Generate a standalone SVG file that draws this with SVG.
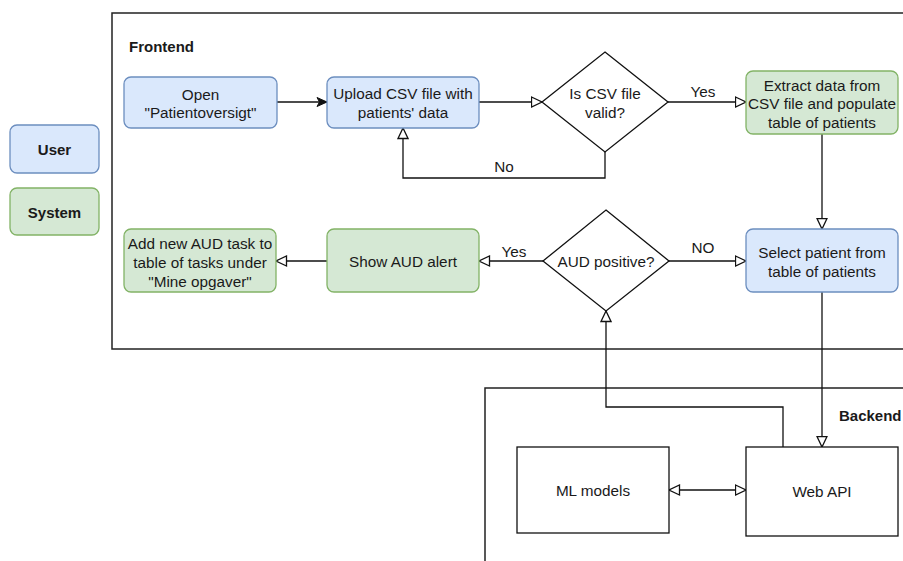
<svg xmlns="http://www.w3.org/2000/svg" width="903" height="561" viewBox="0 0 903 561">
  <defs>
    <style>
      text { font-family: "Liberation Sans", Arial, sans-serif; font-size: 15.3px; fill: #1a1a1a; text-anchor: middle; dominant-baseline: central; }
      .bold { font-weight: bold; font-size: 15px; }
      .left { text-anchor: start; }
      .frame { fill: none; stroke: #222; stroke-width: 1.5; }
      .user { fill: #dae8fc; stroke: #6c8ebf; stroke-width: 1.3; }
      .sys { fill: #d5e8d4; stroke: #82b366; stroke-width: 1.3; }
      .plain { fill: #fff; stroke: #111; stroke-width: 1.3; }
      .edge { fill: none; stroke: #111; stroke-width: 1.3; }
      .open { marker-end: url(#openTri); }
    </style>
    <marker id="openTri" viewBox="0 0 12 12" refX="11.5" refY="6" markerWidth="12" markerHeight="12" markerUnits="userSpaceOnUse" orient="auto-start-reverse">
      <path d="M1,1 L11.5,6 L1,11 Z" fill="#fff" stroke="#111" stroke-width="1.3"/>
    </marker>
    <marker id="solidTri" viewBox="0 0 12 12" refX="11" refY="6" markerWidth="12" markerHeight="12" markerUnits="userSpaceOnUse" orient="auto">
      <path d="M1,1.5 L11,6 L1,10.5 L3.5,6 Z" fill="#111" stroke="#111" stroke-width="1"/>
    </marker>
  </defs>

  <!-- containers -->
  <g id="frontend">
    <rect class="frame" x="112" y="13" width="810" height="336"/>
    <text class="bold left" x="129" y="46">Frontend</text>
  </g>
  <g id="backend">
    <rect class="frame" x="485" y="388" width="440" height="200"/>
    <text class="bold left" x="839" y="415">Backend</text>
  </g>

  <!-- legend -->
  <g id="legend-user">
    <rect class="user" x="10" y="125" width="89" height="48" rx="7"/>
    <text class="bold" x="54.5" y="149">User</text>
  </g>
  <g id="legend-system">
    <rect class="sys" x="10" y="188" width="89" height="47" rx="7"/>
    <text class="bold" x="54.5" y="212">System</text>
  </g>

  <!-- connectors -->
  <g id="connectors">
    <path class="edge" d="M277,102 L327,102" marker-end="url(#solidTri)"/>
    <path class="edge open" d="M479,102 L542,102"/>
    <path class="edge open" d="M605,152 L605,178 L403,178 L403,128"/>
    <path class="edge open" d="M668,102 L746,102"/>
    <path class="edge open" d="M822,134 L822,229"/>
    <path class="edge open" d="M669,261 L746,261"/>
    <path class="edge open" d="M543,261 L479,261"/>
    <path class="edge open" d="M327,261 L276,261"/>
    <path class="edge open" d="M822,292 L822,447"/>
    <path class="edge open" d="M783,447 L783,407 L606,407 L606,311"/>
    <path class="edge open" d="M669,490 L746,490" marker-start="url(#openTri)"/>
    <text x="504" y="166">No</text>
    <text x="703" y="91">Yes</text>
    <text x="703" y="247">NO</text>
    <text x="514" y="251">Yes</text>
  </g>

  <!-- nodes -->
  <g id="open-overview">
    <rect class="user" x="124" y="77" width="153" height="51" rx="7"/>
    <text x="200.5" y="94">Open</text>
    <text x="200.5" y="112">"Patientoversigt"</text>
  </g>
  <g id="upload-csv">
    <rect class="user" x="327" y="77" width="152" height="51" rx="7"/>
    <text x="403" y="93">Upload CSV file with</text>
    <text x="403" y="112">patients' data</text>
  </g>
  <g id="csv-valid">
    <path class="plain" d="M605,52 L668,102 L605,152 L542,102 Z"/>
    <text x="605" y="93">Is CSV file</text>
    <text x="605" y="112">valid?</text>
  </g>
  <g id="extract-data">
    <rect class="sys" x="746" y="71" width="152" height="63" rx="7"/>
    <text x="822" y="85">Extract data from</text>
    <text x="822" y="103">CSV file and populate</text>
    <text x="822" y="122">table of patients</text>
  </g>
  <g id="select-patient">
    <rect class="user" x="746" y="229" width="152" height="63" rx="7"/>
    <text x="822" y="252">Select patient from</text>
    <text x="822" y="271">table of patients</text>
  </g>
  <g id="aud-positive">
    <path class="plain" d="M606,210 L669,261 L606,311 L543,261 Z"/>
    <text x="606" y="261">AUD positive?</text>
  </g>
  <g id="show-alert">
    <rect class="sys" x="327" y="229" width="152" height="63" rx="7"/>
    <text x="403" y="261">Show AUD alert</text>
  </g>
  <g id="add-task">
    <rect class="sys" x="124" y="229" width="152" height="63" rx="7"/>
    <text x="200" y="243">Add new AUD task to</text>
    <text x="200" y="262">table of tasks under</text>
    <text x="200" y="281">"Mine opgaver"</text>
  </g>
  <g id="ml-models">
    <rect class="plain" x="517" y="447" width="152" height="86"/>
    <text x="593" y="490">ML models</text>
  </g>
  <g id="web-api">
    <rect class="plain" x="746" y="447" width="152" height="89"/>
    <text x="822" y="491">Web API</text>
  </g>
</svg>
